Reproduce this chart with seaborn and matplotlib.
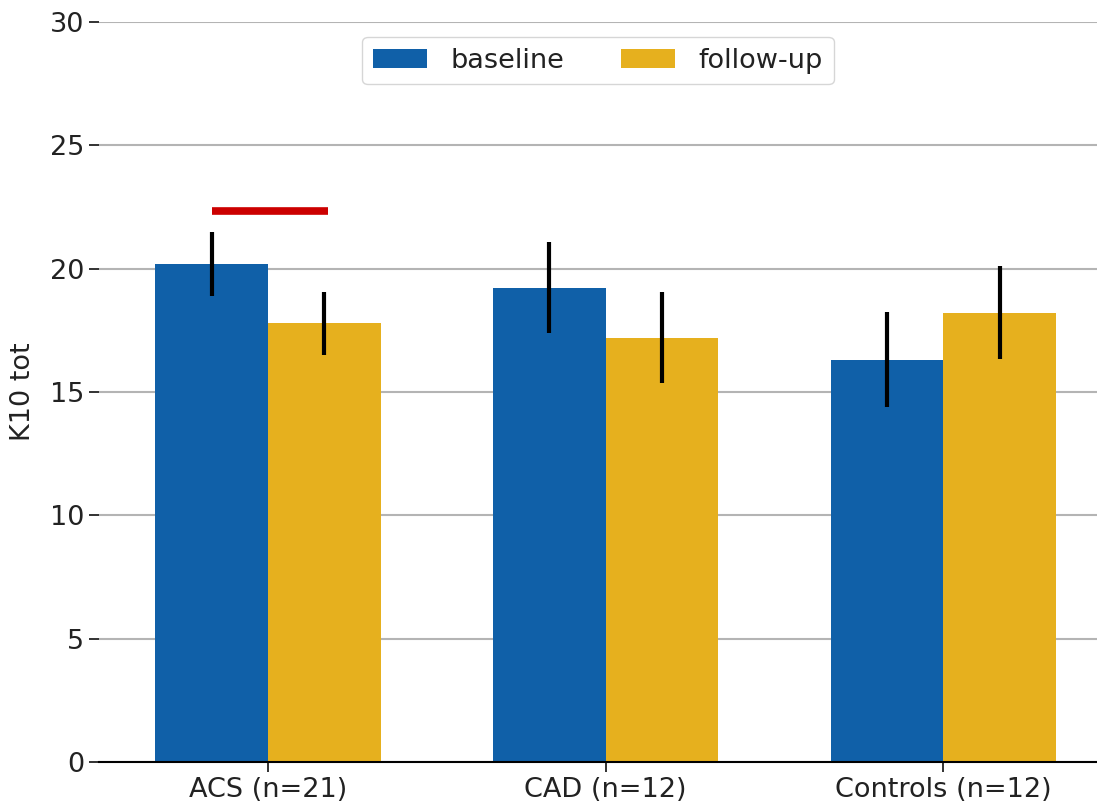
import numpy as np
import pandas as pd
import seaborn as sns
import matplotlib.pyplot as plt

# values
groups = ["ACS (n=21)", "CAD (n=12)", "Controls (n=12)"]
baseline = [20.2, 19.2, 16.3]
followup = [17.8, 17.2, 18.2]
baseline_lo = [18.9, 17.4, 14.4]
baseline_hi = [21.5, 21.1, 18.25]
followup_lo = [16.5, 15.35, 16.35]
followup_hi = [19.05, 19.05, 20.1]
sig_y = 22.35

df = pd.DataFrame({
    "group": groups * 2,
    "time": ["baseline"] * 3 + ["follow-up"] * 3,
    "K10 tot": baseline + followup,
})
lo = baseline_lo + followup_lo
hi = baseline_hi + followup_hi

sns.set_style("white")
plt.rcParams["font.family"] = ["DejaVu Sans"]
fs = 19.5

fig = plt.figure(figsize=(10.97, 8.10), dpi=100)
ax = fig.add_axes([99 / 1097, 48 / 810, 1 - 99 / 1097, 740 / 810])

palette = {"baseline": "#1060a8", "follow-up": "#e6b01e"}
sns.barplot(data=df, x="group", y="K10 tot", hue="time", palette=palette,
            width=0.667, errorbar=None, saturation=1, linewidth=0,
            ax=ax, zorder=2)

# error bars at each bar centre
bars = ax.patches[:6]
centres = [b.get_x() + b.get_width() / 2 for b in bars]
ax.vlines(centres, lo, hi, color="black", lw=3, zorder=3)

# significance line for ACS
ax.hlines(sig_y, centres[0], centres[3] + 0.01, color="#cc0000", lw=5.5,
          zorder=3)

ax.set_ylim(0, 30)
ax.set_xlim(-0.5, 2.455)
ax.set_yticks([0, 5, 10, 15, 20, 25, 30])
ax.yaxis.grid(True, color="#b4b4b4", lw=1.5, zorder=0)
ax.set_axisbelow(True)
ax.set_xlabel("")
ax.set_ylabel("K10 tot", fontsize=fs, labelpad=10, color="#222222")
ax.tick_params(axis="both", labelsize=fs, length=7, width=1.3,
               bottom=True, left=True, colors="#222222")
for s in ["top", "right", "left"]:
    ax.spines[s].set_visible(False)
ax.spines["bottom"].set_color("black")
ax.spines["bottom"].set_linewidth(1.5)

leg = ax.legend(loc="upper center", ncol=2, bbox_to_anchor=(0.5, 0.98),
                borderaxespad=0, fontsize=fs, frameon=True, handlelength=2.0,
                columnspacing=2.1, handletextpad=0.85, borderpad=0.4)
leg.get_frame().set_edgecolor("#cccccc")
for t in leg.get_texts():
    t.set_color("#222222")

fig.savefig("out.png", dpi=100)
